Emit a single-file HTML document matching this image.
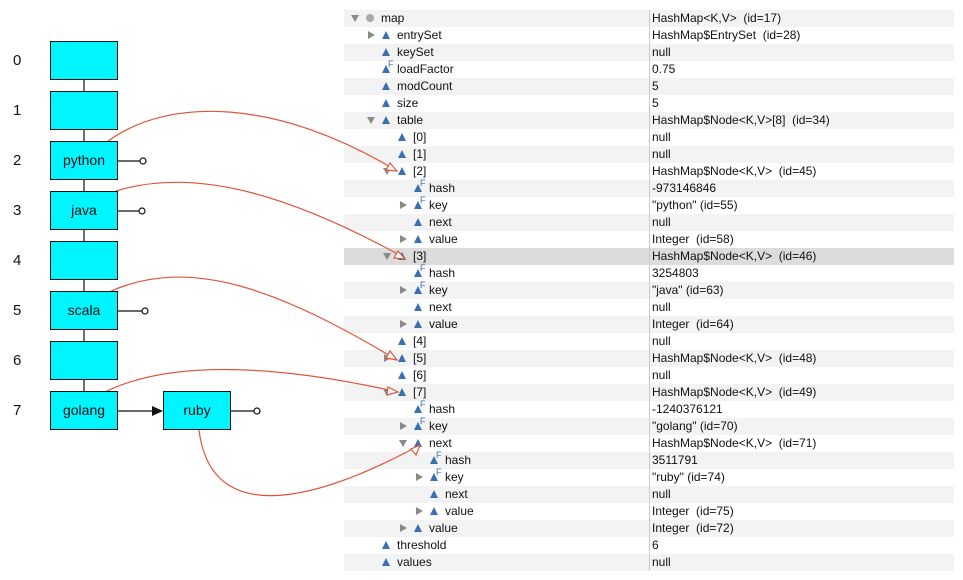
<!DOCTYPE html>
<html><head><meta charset="utf-8"><style>
body{margin:0;width:963px;height:580px;background:#fff;position:relative;overflow:hidden;font-family:"Liberation Sans",sans-serif}
.r{position:absolute;left:344px;width:610px;height:17px}
.t{position:absolute;font-size:12px;line-height:17px;color:#111;white-space:pre}
.box{position:absolute;width:66px;height:37px;background:#00f5ff;border:1px solid #111;box-sizing:content-box;font-size:14px;text-align:center;line-height:37px;color:#111}
.num{position:absolute;left:13px;font-size:15px;color:#111}
</style></head><body>
<div id="rows"></div>
<div style="position:absolute;left:649px;top:10px;width:1px;height:561px;background:#ccc"></div>
<svg width="963" height="580" style="position:absolute;left:0;top:0" id="sv">
<g stroke="#111" stroke-width="1.2" fill="none">
<line x1="84" y1="80" x2="84" y2="391"/>
<line x1="117" y1="161" x2="140" y2="161"/><circle cx="143" cy="161" r="3" fill="#fff"/>
<line x1="117" y1="211" x2="139" y2="211"/><circle cx="142" cy="211" r="3" fill="#fff"/>
<line x1="117" y1="311" x2="142" y2="311"/><circle cx="145" cy="311" r="3" fill="#fff"/>
<line x1="230" y1="411" x2="254" y2="411"/><circle cx="257" cy="411" r="3" fill="#fff"/>
<line x1="117" y1="411" x2="152" y2="411"/>
</g>
<polygon points="152,406 163,411 152,416" fill="#111"/>
<g stroke="#e0553a" stroke-width="1.2" fill="none">
<path d="M107,142 C170,95 280,100 397,171"/>
<path d="M116,191 C200,165 300,200 405,258"/>
<path d="M109,292 C190,255 280,290 397,360"/>
<path d="M105,392 C180,355 300,370 398,392"/>
<path d="M199,430 C210,520 300,510 420,445"/>
</g>
<g stroke="#e0553a" stroke-width="1.2" fill="#fff">
<polygon points="397,171 386,170 390,163"/>
<polygon points="405,259 394,258 398,251"/>
<polygon points="397,360 386,358 390,351"/>
<polygon points="398,392 388,387 387,395"/>
<polygon points="420,445 411,449 416,455"/>
</g>
</svg>
<div class="num" style="top:52px">0</div><div class="num" style="top:102px">1</div><div class="num" style="top:152px">2</div><div class="num" style="top:202px">3</div><div class="num" style="top:252px">4</div><div class="num" style="top:302px">5</div><div class="num" style="top:352px">6</div><div class="num" style="top:402px">7</div>
<div class="box" style="left:50px;top:41px"></div>
<div class="box" style="left:50px;top:91px"></div>
<div class="box" style="left:50px;top:141px">python</div>
<div class="box" style="left:50px;top:191px">java</div>
<div class="box" style="left:50px;top:241px"></div>
<div class="box" style="left:50px;top:291px">scala</div>
<div class="box" style="left:50px;top:341px"></div>
<div class="box" style="left:50px;top:391px">golang</div>
<div class="box" style="left:163px;top:391px">ruby</div>
<script>
var d=[[0,'d','o','map','HashMap<K,V>  (id=17)'],[1,'r','','entrySet','HashMap$EntrySet  (id=28)'],[1,'','','keySet','null'],[1,'','F','loadFactor','0.75'],[1,'','','modCount','5'],[1,'','','size','5'],[1,'d','','table','HashMap$Node<K,V>[8]  (id=34)'],
[2,'','','[0]','null'],[2,'','','[1]','null'],[2,'d','','[2]','HashMap$Node<K,V>  (id=45)'],[3,'','F','hash','-973146846'],[3,'r','F','key','"python" (id=55)'],[3,'','','next','null'],[3,'r','','value','Integer  (id=58)'],
[2,'d','','[3]','HashMap$Node<K,V>  (id=46)'],[3,'','F','hash','3254803'],[3,'r','F','key','"java" (id=63)'],[3,'','','next','null'],[3,'r','','value','Integer  (id=64)'],
[2,'','','[4]','null'],[2,'r','','[5]','HashMap$Node<K,V>  (id=48)'],[2,'','','[6]','null'],[2,'d','','[7]','HashMap$Node<K,V>  (id=49)'],[3,'','F','hash','-1240376121'],[3,'r','F','key','"golang" (id=70)'],[3,'d','','next','HashMap$Node<K,V>  (id=71)'],
[4,'','F','hash','3511791'],[4,'r','F','key','"ruby" (id=74)'],[4,'','','next','null'],[4,'r','','value','Integer  (id=75)'],[3,'r','','value','Integer  (id=72)'],[1,'','','threshold','6'],[1,'','','values','null']];
var h='';
d.forEach(function(a,i){var y=10+17*i;var bg=i==14?'#dcdcdc':(i%2==0?'#f3f3f3':'#fff');
h+='<div class="r" style="top:'+y+'px;background:'+bg+'"></div>';
var ex=355+16*a[0],ic=370+16*a[0],tx=381+16*a[0];
if(a[1]=='d')h+='<div style="position:absolute;left:'+(ex-4)+'px;top:'+(y+5)+'px;width:0;height:0;border-left:4px solid transparent;border-right:4px solid transparent;border-top:7px solid #8a8a8a"></div>';
if(a[1]=='r')h+='<div style="position:absolute;left:'+(ex-3)+'px;top:'+(y+4)+'px;width:0;height:0;border-top:4px solid transparent;border-bottom:4px solid transparent;border-left:7px solid #8a8a8a"></div>';
if(a[2]=='o')h+='<div style="position:absolute;left:'+(ic-4)+'px;top:'+(y+4)+'px;width:8px;height:8px;border-radius:50%;background:#aaa"></div>';
else{h+='<div style="position:absolute;left:'+(ic-4)+'px;top:'+(y+4)+'px;width:0;height:0;border-left:4.5px solid transparent;border-right:4.5px solid transparent;border-bottom:8px solid #3a6fb0"></div>';
if(a[2]=='F')h+='<div class="t" style="left:'+(ic+2)+'px;top:'+(y-5)+'px;font-size:9px;color:#3a6fb0">F</div>';}
h+='<div class="t" style="left:'+tx+'px;top:'+y+'px">'+a[3]+'</div>';
h+='<div class="t" style="left:652px;top:'+y+'px">'+a[4].replace(/</g,'&lt;')+'</div>';});
document.getElementById('rows').innerHTML=h;
</script>
</body></html>
